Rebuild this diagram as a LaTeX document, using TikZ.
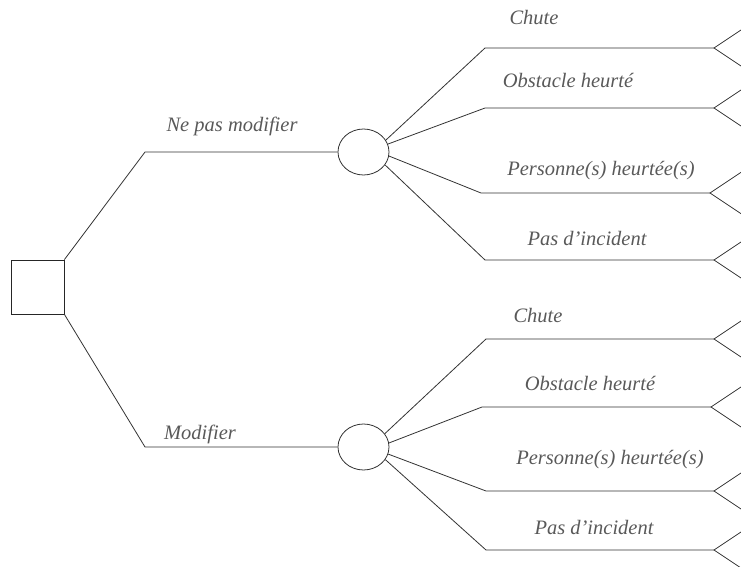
\documentclass[tikz,border=0pt]{standalone}
\usepackage{fontspec}
\setmainfont{Liberation Serif}
\usetikzlibrary{shapes.geometric}
\begin{document}
\begin{tikzpicture}[x=1pt,y=-1pt,
  link/.style={draw=black!80,line width=0.8pt},
  decision/.style={draw=black!85,line width=0.9pt,minimum width=53pt,minimum height=54pt,inner sep=0pt},
  chance/.style={ellipse,draw=black!80,line width=0.8pt,minimum width=51pt,minimum height=46pt,inner sep=0pt},
  lbl/.style={text=black!65,font=\fontsize{20.5}{24}\selectfont\itshape,inner sep=0pt,anchor=center}]
\useasboundingbox (0,0) rectangle (741,567);

% decision node and the two options
\node[decision] (dec) at (37.5,287) {};
\node[chance] (c1) at (363.5,152) {};
\node[chance] (c2) at (363.5,447) {};
\coordinate (k1) at (145,152);
\coordinate (k2) at (145,447);
\draw[link] (dec.north east) -- (k1) -- (c1.west);
\draw[link] (dec.south east) -- (k2) -- (c2.west);
\node[lbl] (n1) at (232,126) {Ne pas modifier};
\node[lbl] (n2) at (200,434) {Modifier};

% outcome branches: name / angle on chance node / start x / end x / y
\foreach \nm/\ang/\sx/\ex/\yy [count=\i] in
  {a1/28/485/714/48, a2/18/485/714/108, a3/-9/481/710/193, a4/-31/485/714/260}{
  \coordinate (\nm s) at (\sx,\yy);
  \coordinate (\nm e) at (\ex,\yy);
  \coordinate (\nm u) at (741,{\yy-(741-\ex)*0.667});
  \coordinate (\nm d) at (741,{\yy+(741-\ex)*0.667});
  \draw[link] (c1.\ang) -- (\nm s) -- (\nm e);
  \draw[link] (\nm u) -- (\nm e) -- (\nm d);
}
\foreach \nm/\ang/\sx/\ex/\yy [count=\i] in
  {b1/32/486/714/339, b2/9/482/711/407, b3/-16/486/714/491, b4/-30/486/714/550}{
  \coordinate (\nm s) at (\sx,\yy);
  \coordinate (\nm e) at (\ex,\yy);
  \coordinate (\nm u) at (741,{\yy-(741-\ex)*0.667});
  \coordinate (\nm d) at (741,{\yy+(741-\ex)*0.667});
  \draw[link] (c2.\ang) -- (\nm s) -- (\nm e);
  \draw[link] (\nm u) -- (\nm e) -- (\nm d);
}

% outcome labels
\node[lbl] (la1) at (534,18) {Chute};
\node[lbl] (la2) at (568,80) {Obstacle heurté};
\node[lbl] (la3) at (601,171) {Personne(s) heurtée(s)};
\node[lbl] (la4) at (587,238) {Pas d’incident};
\node[lbl] (lb1) at (538,316) {Chute};
\node[lbl] (lb2) at (590,383) {Obstacle heurté};
\node[lbl] (lb3) at (610,460) {Personne(s) heurtée(s)};
\node[lbl] (lb4) at (594,527) {Pas d’incident};
\end{tikzpicture}
\end{document}
